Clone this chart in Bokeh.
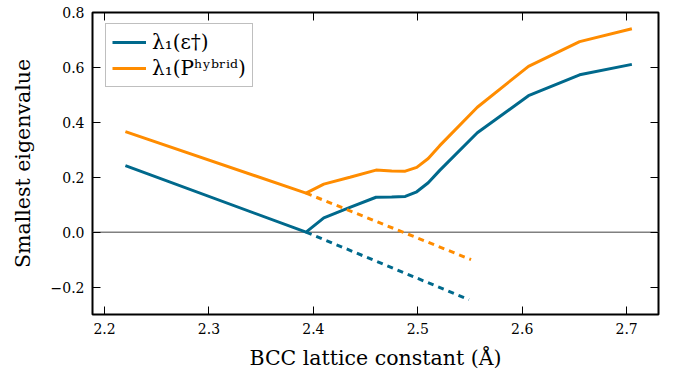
from bokeh.plotting import figure
from bokeh.models import LinearAxis, FixedTicker, Span, CustomJSTickFormatter, NumeralTickFormatter
from bokeh.embed import file_html
from bokeh.resources import INLINE

# ---- data ----
lattice = [2.22, 2.393, 2.41, 2.435, 2.46, 2.475, 2.488, 2.499, 2.51, 2.521, 2.557, 2.606, 2.655, 2.705]
eig_eps = [0.242, 0.0, 0.052, 0.09, 0.127, 0.128, 0.13, 0.147, 0.18, 0.225, 0.362, 0.497, 0.573, 0.611]
eig_hyb = [0.366, 0.142, 0.175, 0.20, 0.226, 0.223, 0.222, 0.236, 0.268, 0.315, 0.455, 0.604, 0.694, 0.741]

ext_eps_x = [2.393, 2.549]
ext_eps_y = [0.0, -0.246]
ext_hyb_x = [2.393, 2.551]
ext_hyb_y = [0.142, -0.100]

x_ticks = [2.2, 2.3, 2.4, 2.5, 2.6, 2.7]
y_ticks = [-0.2, 0.0, 0.2, 0.4, 0.6, 0.8]

label_eps = "λ₁(ε†)"
label_hyb = "λ₁(Pʰʸᵇʳⁱᵈ)"
x_label = "BCC lattice constant (Å)"
y_label = "Smallest eigenvalue"

BLUE = "#00698c"
ORANGE = "#ff8c00"
FONT = "DejaVu Serif"

p = figure(width=676, height=374, output_backend="svg", toolbar_location=None,
           x_range=(2.1885, 2.7305), y_range=(-0.3, 0.8),
           min_border_left=92, min_border_right=18, min_border_top=12, min_border_bottom=60)

p.xgrid.visible = False
p.ygrid.visible = False
p.outline_line_color = "black"
p.outline_line_width = 2
p.outline_line_alpha = 1.0

zero = Span(location=0, dimension="width", line_color="#808080", line_width=1.5, level="underlay")
p.add_layout(zero)

p.line(lattice, eig_eps, line_color=BLUE, line_width=3, legend_label=label_eps)
p.line(lattice, eig_hyb, line_color=ORANGE, line_width=3, legend_label=label_hyb)
p.line(ext_eps_x, ext_eps_y, line_color=BLUE, line_width=3, line_dash="6 5")
p.line(ext_hyb_x, ext_hyb_y, line_color=ORANGE, line_width=3, line_dash="6 5")

def style_axis(ax, ticks):
    ax.ticker = FixedTicker(ticks=ticks)
    ax.axis_line_color = None
    ax.major_tick_in = 8
    ax.major_tick_out = 0
    ax.major_tick_line_color = "black"
    ax.major_tick_line_width = 1
    ax.minor_tick_line_color = None

style_axis(p.xaxis[0], x_ticks)
style_axis(p.yaxis[0], y_ticks)

p.xaxis.formatter = NumeralTickFormatter(format="0.0")
p.yaxis.formatter = CustomJSTickFormatter(code="return tick.toFixed(1).replace('-', '\\u2212');")

for ax in (p.xaxis[0], p.yaxis[0]):
    ax.major_label_text_font = FONT
    ax.major_label_text_font_size = "14px"
    ax.major_label_text_color = "black"
    ax.axis_label_text_font = FONT
    ax.axis_label_text_font_size = "20.5px"
    ax.axis_label_text_font_style = "normal"
    ax.axis_label_text_color = "black"

p.xaxis.axis_label = x_label
p.yaxis.axis_label = y_label
p.xaxis.major_label_standoff = 8
p.yaxis.major_label_standoff = 8
p.xaxis.axis_label_standoff = 9
p.yaxis.axis_label_standoff = 13

blank = CustomJSTickFormatter(code="return '';")
top = LinearAxis(formatter=blank, major_label_text_font_size="0px", major_label_standoff=0)
right = LinearAxis(formatter=blank, major_label_text_font_size="0px", major_label_standoff=0)
style_axis(top, x_ticks)
style_axis(right, y_ticks)
p.add_layout(top, "above")
p.add_layout(right, "right")

lg = p.legend[0]
lg.location = (13, 227)
lg.label_text_font = FONT
lg.label_text_font_size = "20px"
lg.label_text_color = "black"
lg.label_height = 24
lg.glyph_height = 24
lg.glyph_width = 34
lg.label_standoff = 6
lg.spacing = 2
lg.padding = 6
lg.margin = 0
lg.border_line_color = "#808080"
lg.border_line_width = 1.5
lg.background_fill_color = "white"
lg.background_fill_alpha = 1.0

with open("out.html", "w", encoding="utf-8") as f:
    f.write(file_html(p, INLINE))
